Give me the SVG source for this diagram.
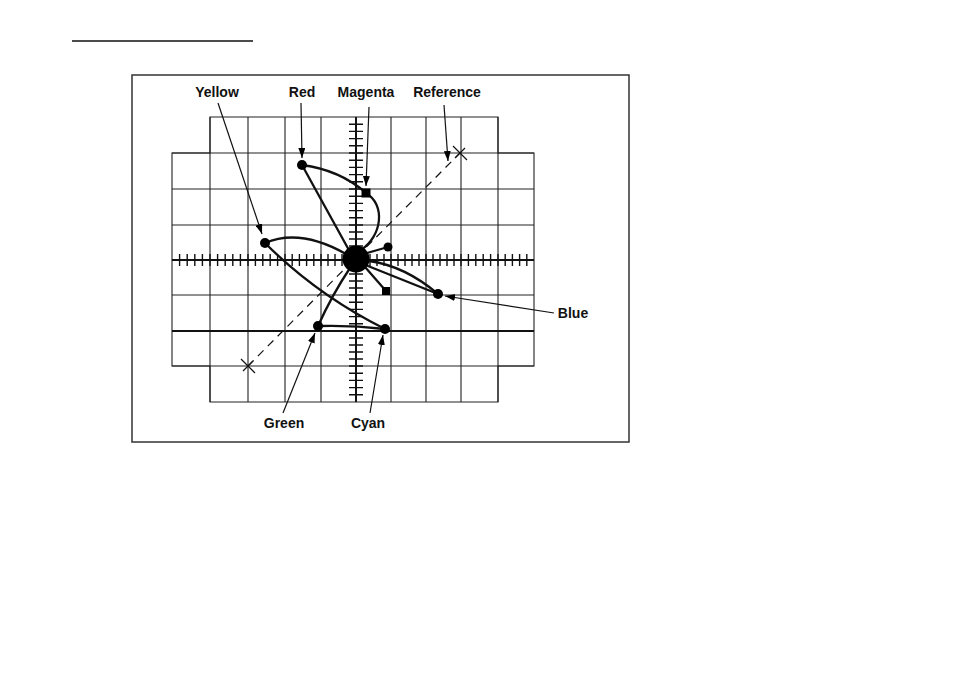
<svg xmlns="http://www.w3.org/2000/svg" width="954" height="673" viewBox="0 0 954 673">
<defs>
<style>
.lbl{font-family:"Liberation Sans",Arial,sans-serif;font-weight:bold;font-size:14px;fill:#111;text-anchor:middle}
.grid{fill:none;stroke:#222;stroke-width:1.1}
.axis{fill:none;stroke:#111;stroke-width:2}
.tick{fill:none;stroke:#111;stroke-width:1.4}
.trace{fill:none;stroke:#111;stroke-width:2.3;stroke-linecap:round}
.arr{fill:none;stroke:#111;stroke-width:1.2}
.dot{fill:#000}
</style>
<marker id="ah" viewBox="0 0 10 7" refX="10" refY="3.5" markerWidth="10" markerHeight="7" markerUnits="userSpaceOnUse" orient="auto">
<path d="M0,0 L10,3.5 L0,7 z" fill="#000"/>
</marker>
</defs>
<rect width="954" height="673" fill="#fff"/>
<line x1="72" y1="41" x2="253" y2="41" stroke="#111" stroke-width="1.6"/>
<rect x="132" y="75" width="497" height="367" fill="none" stroke="#333" stroke-width="1.5"/>

<g id="graticule">
<path class="grid" d="M210,117 H498 V153 H534 V366 H498 V402 H210 V366 H172 V153 H210 Z" stroke-width="1.5"/>
<path class="grid" d="M210,117 V402 M248,117 V402 M285,117 V402 M321,117 V402 M391,117 V402 M426,117 V402 M461,117 V402 M498,117 V402 M172,153 H534 M172,189 H534 M172,225 H534 M172,295 H534 M172,366 H534"/>
<path class="axis" d="M172,331 H534" stroke-width="1.8"/>
<path class="axis" d="M172,260 H534 M356,117 V402"/>
<path class="tick" d="M179.6,254V266M187.2,254V266M194.8,254V266M202.4,254V266M210,254V266M217.6,254V266M225.2,254V266M232.8,254V266M240.4,254V266M248,254V266M255.4,254V266M262.8,254V266M270.2,254V266M277.6,254V266M285,254V266M292.2,254V266M299.4,254V266M306.6,254V266M313.8,254V266M321,254V266M328,254V266M335,254V266M342,254V266M349,254V266M363,254V266M370,254V266M377,254V266M384,254V266M391,254V266M398,254V266M405,254V266M412,254V266M419,254V266M426,254V266M433,254V266M440,254V266M447,254V266M454,254V266M461,254V266M468.4,254V266M475.8,254V266M483.2,254V266M490.6,254V266M498,254V266M505.2,254V266M512.4,254V266M519.6,254V266M526.8,254V266"/>
<path class="tick" d="M349,124.2H363M349,131.4H363M349,138.6H363M349,145.8H363M349,153H363M349,160.2H363M349,167.4H363M349,174.6H363M349,181.8H363M349,189H363M349,196.2H363M349,203.4H363M349,210.6H363M349,217.8H363M349,225H363M349,232H363M349,239H363M349,246H363M349,253H363M349,267H363M349,274H363M349,281H363M349,288H363M349,295H363M349,302.2H363M349,309.4H363M349,316.6H363M349,323.8H363M349,331H363M349,338H363M349,345H363M349,352H363M349,359H363M349,366H363M349,373.2H363M349,380.4H363M349,387.6H363M349,394.8H363"/>
</g>

<g id="reference-line">
<line x1="248" y1="366" x2="460" y2="153" stroke="#111" stroke-width="1.2" stroke-dasharray="8,6"/>
<path d="M241,359 L255,373 M243,371 L253,361 M453,146 L467,160 M455,158 L465,148" stroke="#111" stroke-width="1.2" fill="none"/>
</g>

<g id="traces">
<path class="trace" d="M302,165 L350,252"/>
<path class="trace" d="M302,165 Q340,170 366,193"/>
<path class="trace" d="M366,193 C386,205 382,236 361,250"/>
<path class="trace" d="M265,243 Q300,228 346,254"/>
<path class="trace" d="M265,243 Q317,295 385,329"/>
<path class="trace" d="M350,268 Q332,295 318,326"/>
<path class="trace" d="M318,326 Q352,325 385,329"/>
<path class="trace" d="M367,253 L388,247"/>
<path class="trace" d="M365,267 L386,291"/>
<path class="trace" d="M369,261 Q405,266 438,294"/>
<path class="trace" d="M368,266 L438,294"/>
</g>

<g id="center"><circle class="dot" cx="356" cy="259" r="13.5"/></g>
<g id="red-dot"><circle class="dot" cx="302" cy="165" r="5"/></g>
<g id="magenta-dot"><rect class="dot" x="361.5" y="188.5" width="9" height="9"/></g>
<g id="yellow-dot"><circle class="dot" cx="265" cy="243" r="5"/></g>
<g id="small-dot"><circle class="dot" cx="388" cy="247" r="4.5"/></g>
<g id="small-square"><rect class="dot" x="382" y="287" width="8" height="8"/></g>
<g id="blue-dot"><circle class="dot" cx="438" cy="294" r="5"/></g>
<g id="cyan-dot"><circle class="dot" cx="385" cy="329" r="5"/></g>
<g id="green-dot"><circle class="dot" cx="318" cy="326" r="5"/></g>

<g id="connectors">
<line class="arr" x1="218" y1="103" x2="262" y2="234" marker-end="url(#ah)"/>
<line class="arr" x1="301" y1="103" x2="302" y2="158" marker-end="url(#ah)"/>
<line class="arr" x1="369" y1="107" x2="366" y2="186" marker-end="url(#ah)"/>
<line class="arr" x1="444" y1="105" x2="448" y2="161" marker-end="url(#ah)"/>
<line class="arr" x1="554" y1="313" x2="445" y2="296" marker-end="url(#ah)"/>
<line class="arr" x1="283" y1="413" x2="315" y2="333" marker-end="url(#ah)"/>
<line class="arr" x1="370" y1="413" x2="383" y2="335" marker-end="url(#ah)"/>
</g>

<g id="label-yellow"><text class="lbl" x="217" y="97">Yellow</text></g>
<g id="label-red"><text class="lbl" x="302" y="97">Red</text></g>
<g id="label-magenta"><text class="lbl" x="366" y="97">Magenta</text></g>
<g id="label-reference"><text class="lbl" x="447" y="97">Reference</text></g>
<g id="label-blue"><text class="lbl" x="573" y="318">Blue</text></g>
<g id="label-green"><text class="lbl" x="284" y="428">Green</text></g>
<g id="label-cyan"><text class="lbl" x="368" y="428">Cyan</text></g>
</svg>
